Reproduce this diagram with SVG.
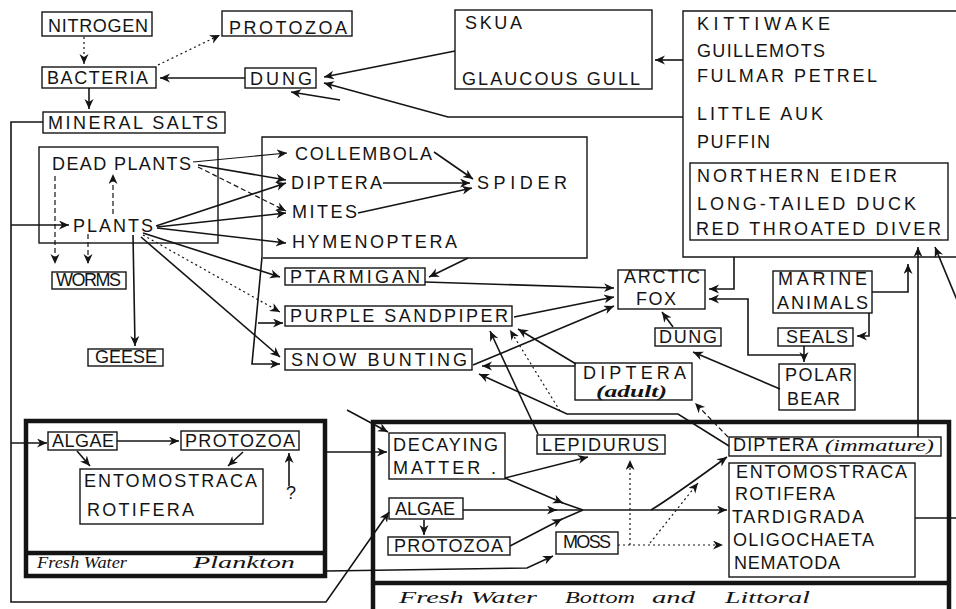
<svg xmlns="http://www.w3.org/2000/svg" width="956" height="609" viewBox="0 0 956 609">
<defs>
<style>
.b{fill:none;stroke:#141414;stroke-width:1.4}
.k{fill:none;stroke:#141414;stroke-width:4.5}
.l{fill:none;stroke:#141414;stroke-width:1.6}
.th{stroke-width:1.1}
.dt{stroke-dasharray:2 3;stroke-width:1.2}
.ds{stroke-dasharray:5 3;stroke-width:1.2}
text{font-family:"Liberation Sans",Arial,sans-serif;font-size:18px;fill:#141414}
text.i{font-family:"Liberation Serif","DejaVu Serif",serif;font-style:italic;font-size:17px}
</style>
<marker id="a" markerUnits="userSpaceOnUse" markerWidth="12" markerHeight="10" refX="10" refY="4.5" orient="auto">
<path d="M0,0 L10,4.5 L0,9 L3,4.5 Z" fill="#141414"/>
</marker>
</defs>
<rect width="956" height="609" fill="#fff"/>

<g id="nitrogen"><rect class="b" x="42" y="12" width="110" height="24"/><text x="48" y="32" font-size="19" textLength="100" lengthAdjust="spacing">NITROGEN</text></g>
<g id="protozoa-top"><rect class="b" x="222" y="11" width="130" height="25"/><text x="229" y="34" font-size="21" textLength="118" lengthAdjust="spacing">PROTOZOA</text></g>
<g id="bacteria"><rect class="b" x="42" y="67" width="114" height="21"/><text x="47" y="84" textLength="101" lengthAdjust="spacing">BACTERIA</text></g>
<g id="dung-top"><rect class="b" x="245" y="68" width="71" height="20"/><text x="250" y="85" textLength="62" lengthAdjust="spacing">DUNG</text></g>
<g id="mineral-salts"><rect class="b" x="43" y="112" width="182" height="21"/><text x="48" y="129" textLength="170" lengthAdjust="spacing">MINERAL SALTS</text></g>
<g id="skua-gull"><rect class="b" x="455" y="10" width="197" height="79"/><text x="465" y="29" textLength="57" lengthAdjust="spacing">SKUA</text><text x="462" y="85" textLength="178" lengthAdjust="spacing">GLAUCOUS GULL</text></g>
<g id="seabirds"><path class="b" d="M962,11 H683 V257 H962"/>
<text x="697" y="30" textLength="133" lengthAdjust="spacing">KITTIWAKE</text>
<text x="697" y="57" textLength="128" lengthAdjust="spacing">GUILLEMOTS</text>
<text x="697" y="82" textLength="180" lengthAdjust="spacing">FULMAR PETREL</text>
<text x="697" y="120" textLength="126" lengthAdjust="spacing">LITTLE AUK</text>
<text x="697" y="148" textLength="73" lengthAdjust="spacing">PUFFIN</text>
</g>
<g id="ducks"><rect class="b" x="690" y="163" width="258" height="77"/>
<text x="697" y="182" textLength="200" lengthAdjust="spacing">NORTHERN EIDER</text>
<text x="697" y="210" textLength="219" lengthAdjust="spacing">LONG-TAILED DUCK</text>
<text x="696" y="235" textLength="245" lengthAdjust="spacing">RED THROATED DIVER</text>
</g>
<g id="plants"><rect class="b" x="39" y="147" width="179" height="96"/>
<text x="52" y="170" textLength="139" lengthAdjust="spacing">DEAD PLANTS</text>
<text x="73" y="232" textLength="80" lengthAdjust="spacing">PLANTS</text>
</g>
<g id="invertebrates"><path class="b" d="M262,257 V137 H587 V258 H263"/>
<text x="295" y="160" textLength="137" lengthAdjust="spacing">COLLEMBOLA</text>
<text x="291" y="189" textLength="91" lengthAdjust="spacing">DIPTERA</text>
<text x="292" y="218" textLength="65" lengthAdjust="spacing">MITES</text>
<text x="292" y="248" textLength="165" lengthAdjust="spacing">HYMENOPTERA</text>
<text x="477" y="189" textLength="90" lengthAdjust="spacing">SPIDER</text>
</g>
<g id="worms"><rect class="b" x="52" y="272" width="74" height="17"/><text x="56" y="286" font-size="15" textLength="65" lengthAdjust="spacing">WORMS</text></g>
<g id="geese"><rect class="b" x="88" y="349" width="75" height="17"/><text x="95" y="363" font-size="15" textLength="62" lengthAdjust="spacing">GEESE</text></g>
<g id="ptarmigan"><rect class="b" x="285" y="268" width="140" height="17"/><text x="290" y="283" font-size="17" textLength="130" lengthAdjust="spacing">PTARMIGAN</text></g>
<g id="purple-sandpiper"><rect class="b" x="285" y="306" width="227" height="20"/><text x="290" y="322" textLength="218" lengthAdjust="spacing">PURPLE SANDPIPER</text></g>
<g id="snow-bunting"><rect class="b" x="285" y="349" width="187" height="21"/><text x="291" y="366" textLength="176" lengthAdjust="spacing">SNOW BUNTING</text></g>
<g id="arctic-fox"><rect class="b" x="618" y="270" width="87" height="39"/><text x="624" y="283" textLength="76" lengthAdjust="spacing">ARCTIC</text><text x="636" y="305" textLength="40" lengthAdjust="spacing">FOX</text></g>
<g id="dung-mid"><rect class="b" x="655" y="328" width="66" height="18"/><text x="659" y="343" textLength="58" lengthAdjust="spacing">DUNG</text></g>
<g id="marine-animals"><rect class="b" x="773" y="271" width="99" height="42"/><text x="778" y="285" textLength="89" lengthAdjust="spacing">MARINE</text><text x="777" y="309" textLength="91" lengthAdjust="spacing">ANIMALS</text></g>
<g id="seals"><rect class="b" x="778" y="328" width="75" height="18"/><text x="786" y="343" textLength="62" lengthAdjust="spacing">SEALS</text></g>
<g id="polar-bear"><rect class="b" x="779" y="364" width="76" height="46"/><text x="785" y="381" textLength="67" lengthAdjust="spacing">POLAR</text><text x="787" y="405" textLength="53" lengthAdjust="spacing">BEAR</text></g>
<g id="diptera-adult"><rect class="b" x="575" y="363" width="117" height="37"/><text x="583" y="379" font-size="17" textLength="103" lengthAdjust="spacing">DIPTERA</text><text class="i" x="596" y="397" font-size="13.5" font-weight="bold" textLength="71" lengthAdjust="spacingAndGlyphs">(adult)</text></g>

<g id="plankton"><rect class="k" x="26" y="421" width="299" height="155"/><path class="k" d="M26,553 H325"/>
<text class="i" x="37" y="568" textLength="90" lengthAdjust="spacingAndGlyphs">Fresh Water</text>
<text class="i" x="193" y="568" textLength="102" lengthAdjust="spacingAndGlyphs">Plankton</text>
</g>
<g id="algae-plankton"><rect class="b" x="48" y="432" width="69" height="18"/><text x="52" y="447" textLength="62" lengthAdjust="spacing">ALGAE</text></g>
<g id="protozoa-plankton"><rect class="b" x="181" y="431" width="118" height="19"/><text x="185" y="447" textLength="110" lengthAdjust="spacing">PROTOZOA</text></g>
<g id="entomostraca-plankton"><rect class="b" x="80" y="469" width="183" height="55"/><text x="84" y="487" textLength="173" lengthAdjust="spacing">ENTOMOSTRACA</text><text x="87" y="516" textLength="107" lengthAdjust="spacing">ROTIFERA</text></g>
<text x="286" y="499" font-size="10">?</text>

<g id="bottom"><path class="k" d="M373,612 V422 H949 V612"/><path class="k" d="M373,583 H949"/>
<text class="i" x="399" y="603" textLength="138" lengthAdjust="spacingAndGlyphs">Fresh Water</text>
<text class="i" x="565" y="603" textLength="70" lengthAdjust="spacingAndGlyphs">Bottom</text>
<text class="i" x="652" y="603" textLength="43" lengthAdjust="spacingAndGlyphs">and</text>
<text class="i" x="725" y="603" textLength="85" lengthAdjust="spacingAndGlyphs">Littoral</text>
</g>
<g id="decaying-matter"><rect class="b" x="389" y="433" width="116" height="46"/><text x="393" y="451" textLength="105" lengthAdjust="spacing">DECAYING</text><text x="393" y="474" textLength="103" lengthAdjust="spacing">MATTER .</text></g>
<g id="lepidurus"><rect class="b" x="537" y="435" width="128" height="19"/><text x="542" y="451" textLength="117" lengthAdjust="spacing">LEPIDURUS</text></g>
<g id="algae-bottom"><rect class="b" x="389" y="498" width="74" height="21"/><text x="395" y="515" textLength="60" lengthAdjust="spacing">ALGAE</text></g>
<g id="protozoa-bottom"><rect class="b" x="388" y="537" width="122" height="18"/><text x="394" y="552" textLength="109" lengthAdjust="spacing">PROTOZOA</text></g>
<g id="moss"><rect class="b" x="556" y="532" width="62" height="22"/><text x="563" y="548" font-size="16" textLength="48" lengthAdjust="spacing">MOSS</text></g>
<g id="diptera-immature"><rect class="b" x="729" y="437" width="212" height="19"/><text x="733" y="451" textLength="85" lengthAdjust="spacing">DIPTERA</text><text class="i" x="825" y="451" textLength="109" lengthAdjust="spacingAndGlyphs">(immature)</text></g>
<g id="bottom-fauna"><rect class="b" x="729" y="463" width="186" height="114"/>
<text x="736" y="478" textLength="171" lengthAdjust="spacing">ENTOMOSTRACA</text>
<text x="735" y="500" textLength="100" lengthAdjust="spacing">ROTIFERA</text>
<text x="732" y="523" textLength="132" lengthAdjust="spacing">TARDIGRADA</text>
<text x="733" y="546" textLength="141" lengthAdjust="spacing">OLIGOCHAETA</text>
<text x="734" y="569" textLength="106" lengthAdjust="spacing">NEMATODA</text>
</g>

<g id="connectors">
<path class="l dt" d="M84,37 V64" marker-end="url(#a)"/>
<path class="l dt" d="M158,65 L220,35" marker-end="url(#a)"/>
<path class="l" d="M245,78 H160" marker-end="url(#a)"/>
<path class="l" d="M89,88 V109" stroke-width="2.2" marker-end="url(#a)"/>
<path class="l" d="M455,51 L324,77" marker-end="url(#a)"/>
<path class="l" d="M683,117 H448 L324,83" marker-end="url(#a)"/>
<path class="l" d="M340,100 L291,92" marker-end="url(#a)"/>
<path class="l" d="M683,60 H655" marker-end="url(#a)"/>
<path class="l" d="M43,122 H11 V602 H326 L389,512" marker-end="url(#a)"/>
<path class="l" d="M11,225 H69" marker-end="url(#a)"/>
<path class="l" d="M11,443 H47" marker-end="url(#a)"/>
<path class="l" d="M327,452 H387" marker-end="url(#a)"/>
<path class="l" d="M327,571 L527,568 L553,556" marker-end="url(#a)"/>
<path class="l" d="M347,410 L388,432" marker-end="url(#a)"/>
<path class="l" d="M505,478 L588,457" marker-end="url(#a)"/>
<path class="l" d="M505,478 L563,503" marker-end="url(#a)"/>
<path class="l" d="M560,502 L583,510"/>
<path class="l" d="M463,510 H557" marker-end="url(#a)"/>
<path class="l" d="M510,546 L562,519" marker-end="url(#a)"/>
<path class="l" d="M560,520 L583,510"/>
<path class="l" d="M555,510 H727" marker-end="url(#a)"/>
<path class="l" d="M651,510 Q668,500 727,457" marker-end="url(#a)"/>
<path class="l" d="M424,520 V535" marker-end="url(#a)"/>
<path class="l dt" d="M618,545 H723" marker-end="url(#a)"/>
<path class="l dt" d="M630,545 V460" marker-end="url(#a)"/>
<path class="l dt" d="M650,543 L698,483" marker-end="url(#a)"/>
<path class="l" d="M117,441 H179" marker-end="url(#a)"/>
<path class="l" d="M77,451 L90,466" marker-end="url(#a)"/>
<path class="l" d="M243,452 L228,466" marker-end="url(#a)"/>
<path class="l" d="M289,486 V453" marker-end="url(#a)"/>
<path class="l th" d="M193,162 L287,153" marker-end="url(#a)"/>
<path class="l" d="M198,165 L286,180" marker-end="url(#a)"/>
<path class="l ds" d="M198,167 L286,211" marker-end="url(#a)"/>
<path class="l" d="M156,226 L286,183" marker-end="url(#a)"/>
<path class="l" d="M157,227 L286,213" marker-end="url(#a)"/>
<path class="l" d="M157,228 L286,243" marker-end="url(#a)"/>
<path class="l" d="M143,233 L280,277" marker-end="url(#a)"/>
<path class="l dt" d="M143,235 L280,312" marker-end="url(#a)"/>
<path class="l" d="M141,237 L280,357" marker-end="url(#a)"/>
<path class="l" d="M133,235 L135,346" stroke-width="2" marker-end="url(#a)"/>
<path class="l ds" d="M55,176 V264" marker-end="url(#a)"/>
<path class="l ds" d="M88,234 V264" marker-end="url(#a)"/>
<path class="l ds" d="M113,214 V174" marker-end="url(#a)"/>
<path class="l" d="M434,152 L473,179" marker-end="url(#a)"/>
<path class="l" d="M383,183 H470" marker-end="url(#a)"/>
<path class="l" d="M358,213 L472,188" marker-end="url(#a)"/>
<path class="l" d="M262,257 L252,364 H280" stroke-width="2" marker-end="url(#a)"/>
<path class="l" d="M258,323 H283" stroke-width="2" marker-end="url(#a)"/>
<path class="l" d="M468,258 L429,277" marker-end="url(#a)"/>
<path class="l" d="M425,282 L614,288" marker-end="url(#a)"/>
<path class="l" d="M514,317 L614,297" marker-end="url(#a)"/>
<path class="l" d="M473,365 L614,306" marker-end="url(#a)"/>
<path class="l" d="M575,366 H482" marker-end="url(#a)"/>
<path class="l" d="M576,364 L518,329" marker-end="url(#a)"/>
<path class="l" d="M538,434 L490,331" stroke-width="2" marker-end="url(#a)"/>
<path class="l dt" d="M560,411 L510,330" marker-end="url(#a)"/>
<path class="l" d="M729,446 L678,414 H567 L479,374" marker-end="url(#a)"/>
<path class="l ds" d="M728,437 L695,403" marker-end="url(#a)"/>
<path class="l" d="M918,437 V247" marker-end="url(#a)"/>
<path class="l" d="M957,300 L935,247" marker-end="url(#a)"/>
<path class="l" d="M872,292 H908 V264" marker-end="url(#a)"/>
<path class="l" d="M869,313 V336 H857" marker-end="url(#a)"/>
<path class="l" d="M804,346 V362" marker-end="url(#a)"/>
<path class="l" d="M804,355 H748 V299 H709" marker-end="url(#a)"/>
<path class="l" d="M734,257 V289 H709" marker-end="url(#a)"/>
<path class="l" d="M673,327 L662,312" marker-end="url(#a)"/>
<path class="l" d="M780,389 L693,352" marker-end="url(#a)"/>
<path class="l" d="M915,518 H956"/>
</g>
</svg>
